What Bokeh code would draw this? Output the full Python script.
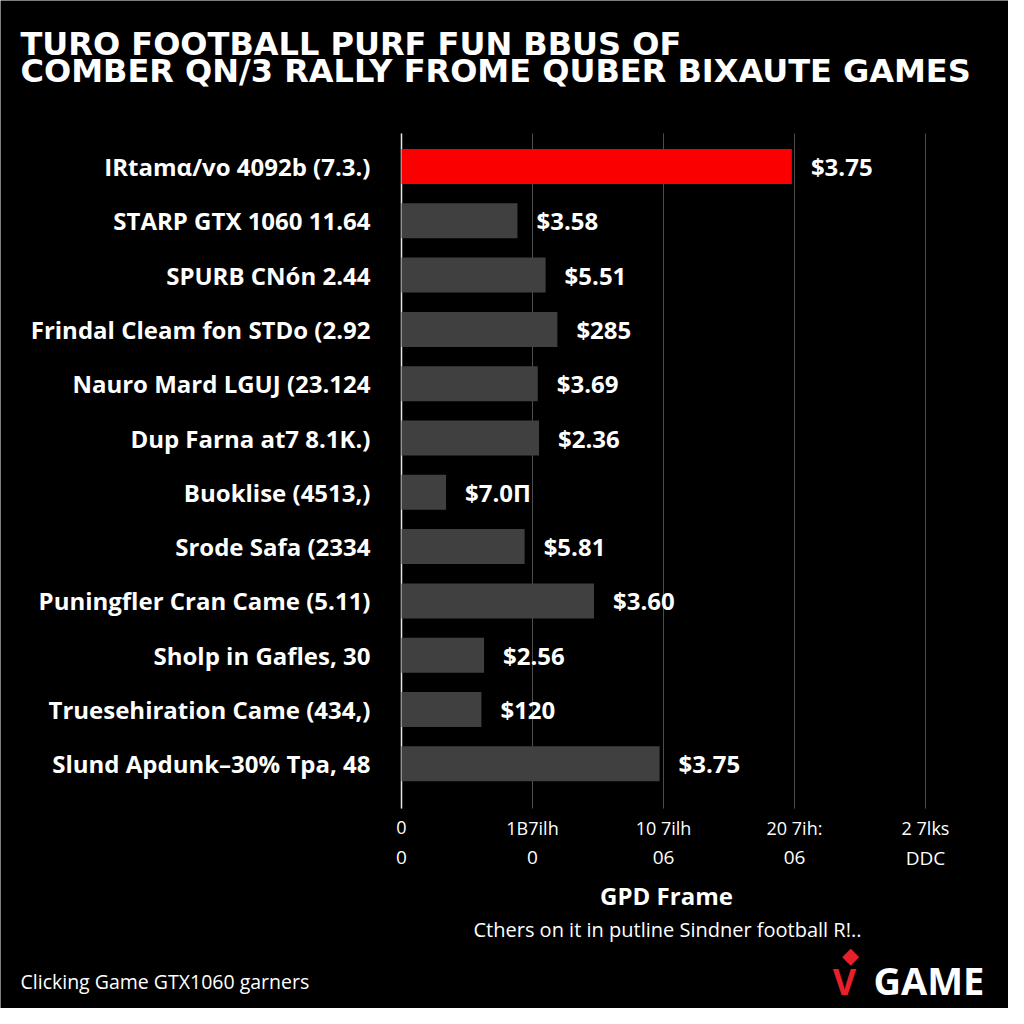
from bokeh.plotting import figure
from bokeh.models import ColumnDataSource, Range1d, Grid
from bokeh.core.properties import value
from bokeh.embed import file_html
from bokeh.resources import INLINE

# ---------------- data ----------------
categories = [
    "IRtam\u03b1/vo 4092b (7.3.)",
    "STARP GTX 1060 11.64",
    "SPURB CN\u00f3n 2.44",
    "Frindal Cleam fon STDo (2.92",
    "Nauro Mard LGUJ (23.124",
    "Dup Farna at7 8.1K.)",
    "Buoklise (4513,)",
    "Srode Safa (2334",
    "Puningfler Cran Came (5.11)",
    "Sholp in Gafles, 30",
    "Truesehiration Came (434,)",
    "Slund Apdunk\u201330% Tpa, 48",
]
values = [2.98, 0.885, 1.10, 1.19, 1.04, 1.05, 0.34, 0.94, 1.47, 0.63, 0.61, 1.97]
value_labels = ["$3.75", "$3.58", "$5.51", "$285", "$3.69", "$2.36",
                "$7.0\u041f", "$5.81", "$3.60", "$2.56", "$120", "$3.75"]
highlight = [True] + [False] * 11
x_ticks = [0, 1, 2, 3, 4]
x_tick_labels_row1 = ["0", "1B7ilh", "10 7ilh", "20 7ih:", "2 7lks"]
x_tick_labels_row2 = ["0", "0", "06", "06", "DDC"]

title_lines = ["TURO FOOTBALL PURF FUN BBUS OF",
               "COMBER QN/3 RALLY FROME QUBER BIXAUTE GAMES"]
x_axis_title = "GPD Frame"
subtitle = "Cthers on it in putline Sindner football R!.."
footer = "Clicking Game GTX1060 garners"
logo_text = "GAME"

RED = "#fa0000"
LOGO_RED = "#e8202a"
GRAY = "#404040"
GRID = "#4d4d4d"
BG = "#000000"

# ---------------- geometry (canvas pixels) ----------------
W = H = 1008
X0 = 401.0      # canvas x of value 0
PXU = 131.0     # pixels per x unit
Y0 = 166.0      # canvas y of first row centre
ROW = 54.3      # pixels per row
CH_TOP, CH_BOT = 133, 808   # chart area (axis line / grid extent)


def X(px):
    return (px - X0) / PXU


def Y(py):
    return (py - Y0) / ROW


p = figure(width=W, height=H, output_backend="svg", toolbar_location=None,
           x_range=Range1d(X(0), X(W)), y_range=Range1d(Y(H), Y(0)),
           x_axis_location=None, y_axis_location=None,
           min_border=0, min_border_left=0, min_border_right=0,
           min_border_top=0, min_border_bottom=0)
p.background_fill_color = BG
p.border_fill_color = BG
p.outline_line_color = None
for r in list(p.renderers) + list(p.center):
    if isinstance(r, Grid):
        r.visible = False
p.center = [r for r in p.center if not isinstance(r, Grid)]

ypos = list(range(len(categories)))
colors = [RED if h else GRAY for h in highlight]
src = ColumnDataSource(dict(y=ypos, v=values, lab=value_labels, c=colors, cat=categories))

# grid lines and axis line
p.segment(x0=x_ticks, x1=x_ticks, y0=[Y(CH_TOP)] * len(x_ticks), y1=[Y(CH_BOT)] * len(x_ticks),
          line_color=GRID, line_width=1)
p.segment(x0=[0], x1=[0], y0=[Y(CH_TOP)], y1=[Y(CH_BOT)], line_color="#e6e6e6", line_width=1.5)

# bars + value labels
p.hbar(y="y", right="v", left=0, height=0.645, color="c", line_color=None, source=src)
p.text(x="v", y="y", text="lab", source=src, x_offset=19, text_baseline="middle",
       text_align="left", text_color="white", text_font=value("Open Sans"),
       text_font_style="bold", text_font_size="24px")

# category labels (y axis)
p.text(x=X(370), y="y", text="cat", source=src, text_baseline="middle", text_align="right",
       text_color="white", text_font=value("Open Sans"), text_font_style="bold",
       text_font_size="24px")

# x tick labels, two rows
p.text(x=x_ticks, y=[Y(827)] * len(x_ticks), text=x_tick_labels_row1, text_baseline="middle",
       text_align="center", text_color="white", text_font=value("Open Sans"),
       text_font_size="18px")
p.text(x=x_ticks, y=[Y(857)] * len(x_ticks), text=x_tick_labels_row2, text_baseline="middle",
       text_align="center", text_color="white", text_font=value("Open Sans"),
       text_font_size="19px")


def txt(s, px, py, size, color="white", align="left", style="normal", font="Open Sans"):
    p.text(x=[X(px)], y=[Y(py)], text=[s], text_baseline="middle", text_align=align,
           text_color=color, text_font=value(font), text_font_style=style,
           text_font_size=size)


# title
txt(title_lines[0], 20, 43, "32px", style="bold", font="DejaVu Sans")
txt(title_lines[1], 20, 70, "32px", style="bold", font="DejaVu Sans")
# axis title, subtitle, footer
txt(x_axis_title, 666, 895, "24px", align="center", style="bold")
txt(subtitle, 667, 929, "20px", align="center")
txt(footer, 20, 981, "19.5px")
# logo
txt(logo_text, 873, 979, "38px", style="bold")
txt("\u25c6", 850, 955, "22px", color=LOGO_RED, align="center", font="DejaVu Sans")
txt("V", 844, 981, "36px", color=LOGO_RED, align="center", style="bold")

open("out.html", "w").write(file_html(p, INLINE))
